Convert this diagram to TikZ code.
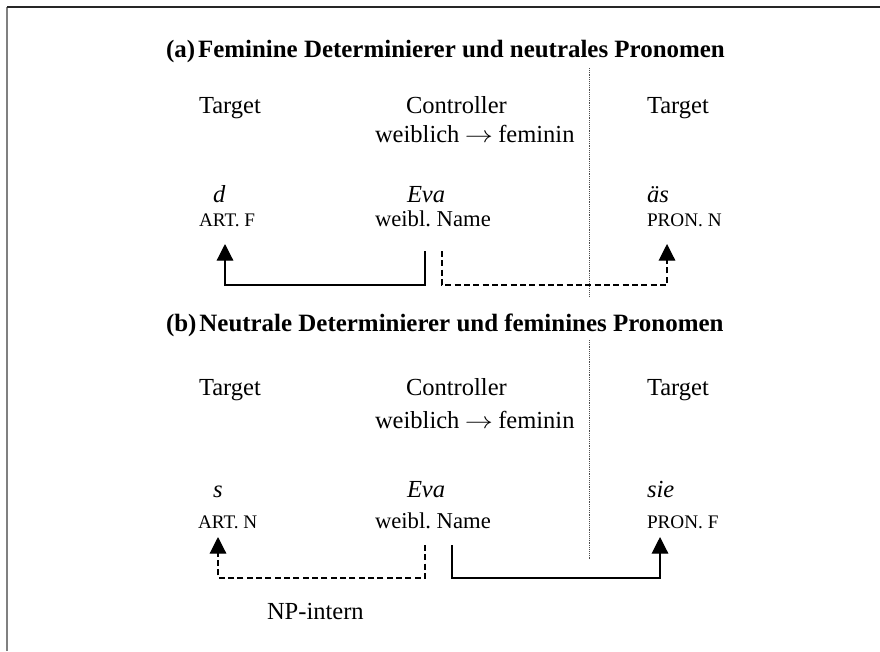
\documentclass[tikz,border=0pt]{standalone}
\usepackage{fontspec}
\setmainfont{Liberation Serif}
\usetikzlibrary{arrows.meta}

\newcommand{\mainsize}{\fontsize{18.4pt}{22pt}\selectfont}
\newcommand{\glosssize}{\fontsize{14.4pt}{17pt}\selectfont}
\newcommand{\becomes}{\hspace{4pt}\scalebox{1.22}[1]{$\rightarrow$}\hspace{4pt}}

\tikzstyle{label}=[anchor=base west,inner sep=0pt,outer sep=0pt]
\tikzstyle{heading}=[label,font=\fontsize{18.7pt}{22pt}\selectfont\bfseries]
\tikzstyle{word}=[label,font=\mainsize\itshape]
\tikzstyle{gloss}=[label,font=\glosssize]
\tikzstyle{name gloss}=[label,font=\fontsize{17pt}{20pt}\selectfont]
\tikzstyle{agreement}=[line width=0.9pt,
    -{Triangle[width=12.5pt,length=12.5pt]}]
\tikzstyle{agreement dashed}=[agreement,dash pattern=on 4.5pt off 2.5pt]
\tikzstyle{divider}=[line width=0.6pt,dash pattern=on 0.7pt off 0.7pt,
    color=black!70]
\newcommand{\agreement}[4][]{
    \draw[agreement,#1] (#2) -- ++(0,#4) -| (#3);
}

\begin{document}
\begin{tikzpicture}[x=0.75pt,y=-0.75pt,font=\mainsize]
    \useasboundingbox (0,0) rectangle (880,651);
    \draw[line width=0.8pt,color=black!50] (7,651) -- (7,7);
    \draw[line width=0.8pt,color=black!85] (7,7) -- (880,7);
    %
    \node[heading] at (166,57) (headA)
        {(a)\hskip0.12em Feminine Determinierer und neutrales Pronomen};
    \node[label] at (199,113) (tgtAL) {Target};
    \node[label] at (406,113) (ctrlA) {Controller};
    \node[label] at (375,142) (ruleA) {weiblich\becomes feminin};
    \node[label] at (647,113) (tgtAR) {Target};
    \node[word] at (213,202) (artA) {d};
    \node[word] at (407,202) (evaA) {Eva};
    \node[word] at (647,202) (pronA) {äs};
    \node[gloss] at (199,226) (artAgl) {ART.\ F};
    \node[name gloss] at (375,226) (evaAgl) {weibl.\ Name};
    \node[gloss] at (647,226) (pronAgl) {PRON.\ N};
    \draw[divider] (589,68) -- (589,297);
    %
    \coordinate (fromAL) at (425,251);
    \coordinate (fromAR) at (442,251);
    \coordinate (toAL) at (225,244);
    \coordinate (toAR) at (667,244);
    \agreement{fromAL}{toAL}{34}
    \agreement[agreement dashed]{fromAR}{toAR}{34}
    %
    \node[heading] at (166,331) (headB)
        {(b)\hskip0.12em Neutrale Determinierer und feminines Pronomen};
    \node[label] at (199,395) (tgtBL) {Target};
    \node[label] at (406,395) (ctrlB) {Controller};
    \node[label] at (375,428) (ruleB) {weiblich\becomes feminin};
    \node[label] at (647,395) (tgtBR) {Target};
    \node[word] at (213,497) (artB) {s};
    \node[word] at (407,497) (evaB) {Eva};
    \node[word] at (647,497) (pronB) {sie};
    \node[gloss] at (198,528) (artBgl) {ART.\ N};
    \node[name gloss] at (375,528) (evaBgl) {weibl.\ Name};
    \node[gloss] at (647,528) (pronBgl) {PRON.\ F};
    \draw[divider] (589,340) -- (589,559);
    %
    \coordinate (fromBL) at (425,545);
    \coordinate (fromBR) at (452,545);
    \coordinate (toBL) at (218,537);
    \coordinate (toBR) at (660,537);
    \agreement[agreement dashed]{fromBL}{toBL}{33}
    \agreement{fromBR}{toBR}{33}
    \node[label] at (267,619) (npint) {NP-intern};
\end{tikzpicture}
\end{document}
